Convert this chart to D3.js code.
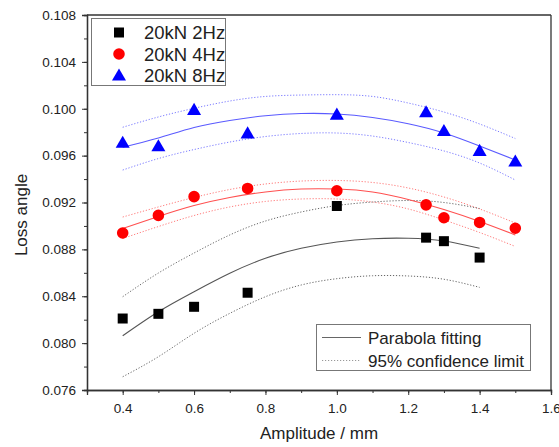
<!DOCTYPE html>
<html><head><meta charset="utf-8">
<script src="https://cdn.jsdelivr.net/npm/d3@7"></script>
<style>body{margin:0;background:#fff}svg{display:block}text{font-family:"Liberation Sans",Arial,sans-serif;fill:#222}</style>
</head><body>
<script>
// ---- data ----
const amp2 = [0.4,0.5,0.6,0.75,1.0,1.25,1.3,1.4];
const loss2 = [0.0821,0.0825,0.0831,0.0843,0.0917,0.0890,0.0887,0.0873];
const amp4 = [0.4,0.5,0.6,0.75,1.0,1.25,1.3,1.4,1.5];
const loss4 = [0.0894,0.0909,0.0925,0.0932,0.0930,0.0918,0.0907,0.0903,0.0898];
const amp8 = [0.4,0.5,0.6,0.75,1.0,1.25,1.3,1.4,1.5];
const loss8 = [0.0971,0.0968,0.0999,0.0979,0.0995,0.0997,0.0981,0.0964,0.0955];

const fitX2 = [0.4,0.5,0.6,0.7,0.8,0.9,1.0,1.1,1.2,1.3,1.4];
const fit2 = [0.08063,0.08268,0.08439,0.08596,0.08724,0.08809,0.08863,0.08891,0.08895,0.08872,0.08809];
const up2 = [0.08396,0.08598,0.08769,0.08923,0.09042,0.09119,0.09174,0.09204,0.09217,0.09200,0.09149];
const lo2 = [0.07713,0.07884,0.08084,0.08254,0.08396,0.08496,0.08550,0.08575,0.08573,0.08545,0.08476];

const fitX = [0.4,0.5,0.6,0.7,0.8,0.9,1.0,1.1,1.2,1.3,1.4,1.5];
const fit4 = [0.08978,0.09081,0.09174,0.09243,0.09290,0.09315,0.09315,0.09290,0.09226,0.09140,0.09038,0.08923];
const up4 = [0.09076,0.09162,0.09243,0.09311,0.09358,0.09383,0.09388,0.09371,0.09324,0.09247,0.09145,0.09025];
const lo4 = [0.08893,0.08995,0.09089,0.09162,0.09209,0.09230,0.09230,0.09204,0.09145,0.09051,0.08944,0.08825];
const fit8 = [0.09671,0.09750,0.09840,0.09900,0.09940,0.09959,0.09955,0.09925,0.09872,0.09793,0.09682,0.09563];
const up8 = [0.09842,0.09930,0.10004,0.10066,0.10105,0.10117,0.10120,0.10105,0.10049,0.09972,0.09870,0.09746];
const lo8 = [0.09477,0.09575,0.09652,0.09716,0.09763,0.09789,0.09793,0.09767,0.09712,0.09640,0.09537,0.09392];

const xTicks = [0.4,0.6,0.8,1.0,1.2,1.4,1.6];
const yTicks = [0.076,0.080,0.084,0.088,0.092,0.096,0.100,0.104,0.108];
const seriesNames = ["20kN 2Hz","20kN 4Hz","20kN 8Hz"];
const fitLegend = ["Parabola fitting","95% confidence limit"];

// ---- layout ----
const W=559,H=447, L=87, R=551, T=15, B=390;
const svg=d3.select("body").append("svg").attr("width",W).attr("height",H);
const x=d3.scaleLinear().domain([0.3,1.6]).range([L,R]);
const y=d3.scaleLinear().domain([0.076,0.108]).range([B,T]);

// frame
const axisCol="#333";
svg.append("line").attr("x1",L).attr("x2",R).attr("y1",T).attr("y2",T).attr("stroke",axisCol).attr("stroke-width",1.3);
svg.append("line").attr("x1",R).attr("x2",R).attr("y1",T).attr("y2",B).attr("stroke",axisCol).attr("stroke-width",1.3);

// x axis
const xMinor=d3.range(0.3,1.61,0.1).map(v=>+v.toFixed(2));
const gx=svg.append("g").attr("transform",`translate(0,${B})`);
gx.call(d3.axisBottom(x).tickValues(xMinor).tickSize(3).tickFormat(""));
const gx2=svg.append("g").attr("transform",`translate(0,${B})`);
gx2.call(d3.axisBottom(x).tickValues(xTicks).tickSize(5).tickPadding(8).tickFormat(d3.format(".1f")));
[gx,gx2].forEach(g=>{g.select(".domain").attr("stroke",axisCol).attr("stroke-width",1.3);g.selectAll(".tick line").attr("stroke",axisCol);});
gx2.selectAll("text").style("font-size","13.5px").attr("fill","#222");

// y axis
const yMinor=d3.range(0.076,0.1081,0.002).map(v=>+v.toFixed(3));
const gy=svg.append("g").attr("transform",`translate(${L},0)`);
gy.call(d3.axisLeft(y).tickValues(yMinor).tickSize(3).tickFormat(""));
const gy2=svg.append("g").attr("transform",`translate(${L},0)`);
gy2.call(d3.axisLeft(y).tickValues(yTicks).tickSize(5).tickPadding(6).tickFormat(d3.format(".3f")));
[gy,gy2].forEach(g=>{g.select(".domain").attr("stroke",axisCol).attr("stroke-width",1.3);g.selectAll(".tick line").attr("stroke",axisCol);});
gy2.selectAll("text").style("font-size","13.5px").attr("fill","#222");

// titles
svg.append("text").attr("x",(L+R)/2).attr("y",439).attr("text-anchor","middle").style("font-size","17px").text("Amplitude / mm");
svg.append("text").attr("transform",`translate(27,215) rotate(-90)`).attr("text-anchor","middle").style("font-size","17px").text("Loss angle");

// curves
const line=(xs,ys)=>d3.line().curve(d3.curveNatural).x((d,i)=>x(xs[i])).y(d=>y(d))(ys);
const plot=svg.append("g");
function band(xs,ys,col){plot.append("path").attr("d",line(xs,ys)).attr("fill","none").attr("stroke",col).attr("stroke-width",1).attr("stroke-dasharray","1.2,1.8");}
function fit(xs,ys,col){plot.append("path").attr("d",line(xs,ys)).attr("fill","none").attr("stroke",col).attr("stroke-width",1.1);}
band(fitX,up8,"#7a7aff");band(fitX,lo8,"#7a7aff");
band(fitX,up4,"#ff7a7a");band(fitX,lo4,"#ff7a7a");
band(fitX2,up2,"#666");band(fitX2,lo2,"#666");
fit(fitX,fit8,"#5a5aff");fit(fitX,fit4,"#ff5050");fit(fitX2,fit2,"#555");

// markers
const sq=d3.symbol().type(d3.symbolSquare).size(100);
const ci=d3.symbol().type(d3.symbolCircle).size(105);
const tr=d3.symbol().type(d3.symbolTriangle).size(85);
plot.selectAll(".s2").data(amp2).enter().append("path").attr("d",sq).attr("fill","#000").attr("transform",(d,i)=>`translate(${x(d)},${y(loss2[i])})`);
plot.selectAll(".s4").data(amp4).enter().append("path").attr("d",ci).attr("fill","#ff0000").attr("transform",(d,i)=>`translate(${x(d)},${y(loss4[i])})`);
plot.selectAll(".s8").data(amp8).enter().append("path").attr("d",tr).attr("fill","#0000ff").attr("transform",(d,i)=>`translate(${x(d)},${y(loss8[i])+1})`);

// legend 1
const lg=svg.append("g");
lg.append("rect").attr("x",91.5).attr("y",18.5).attr("width",134).attr("height",67).attr("fill","#fff").attr("stroke","#777");
const syms=[[sq,"#000"],[ci,"#ff0000"],[tr,"#0000ff"]];
seriesNames.forEach((n,i)=>{
  const cy=32.5+i*21.5;
  lg.append("path").attr("d",syms[i][0]).attr("fill",syms[i][1]).attr("transform",`translate(119,${cy+(i==2?1:0)})`);
  lg.append("text").attr("x",144).attr("y",cy+6.5).style("font-size","18.5px").text(n);
});

// legend 2
const lg2=svg.append("g");
lg2.append("rect").attr("x",316.5).attr("y",324.5).attr("width",214).attr("height",46).attr("fill","#fff").attr("stroke","#777");
lg2.append("line").attr("x1",322).attr("x2",361).attr("y1",337.5).attr("y2",337.5).attr("stroke","#666").attr("stroke-width",1);
lg2.append("line").attr("x1",322).attr("x2",361).attr("y1",360.5).attr("y2",360.5).attr("stroke","#999").attr("stroke-width",1).attr("stroke-dasharray","1.2,1.8");
fitLegend.forEach((n,i)=>{
  lg2.append("text").attr("x",368).attr("y",343.5+i*23).style("font-size","17px").text(n);
});
</script>
</body></html>
